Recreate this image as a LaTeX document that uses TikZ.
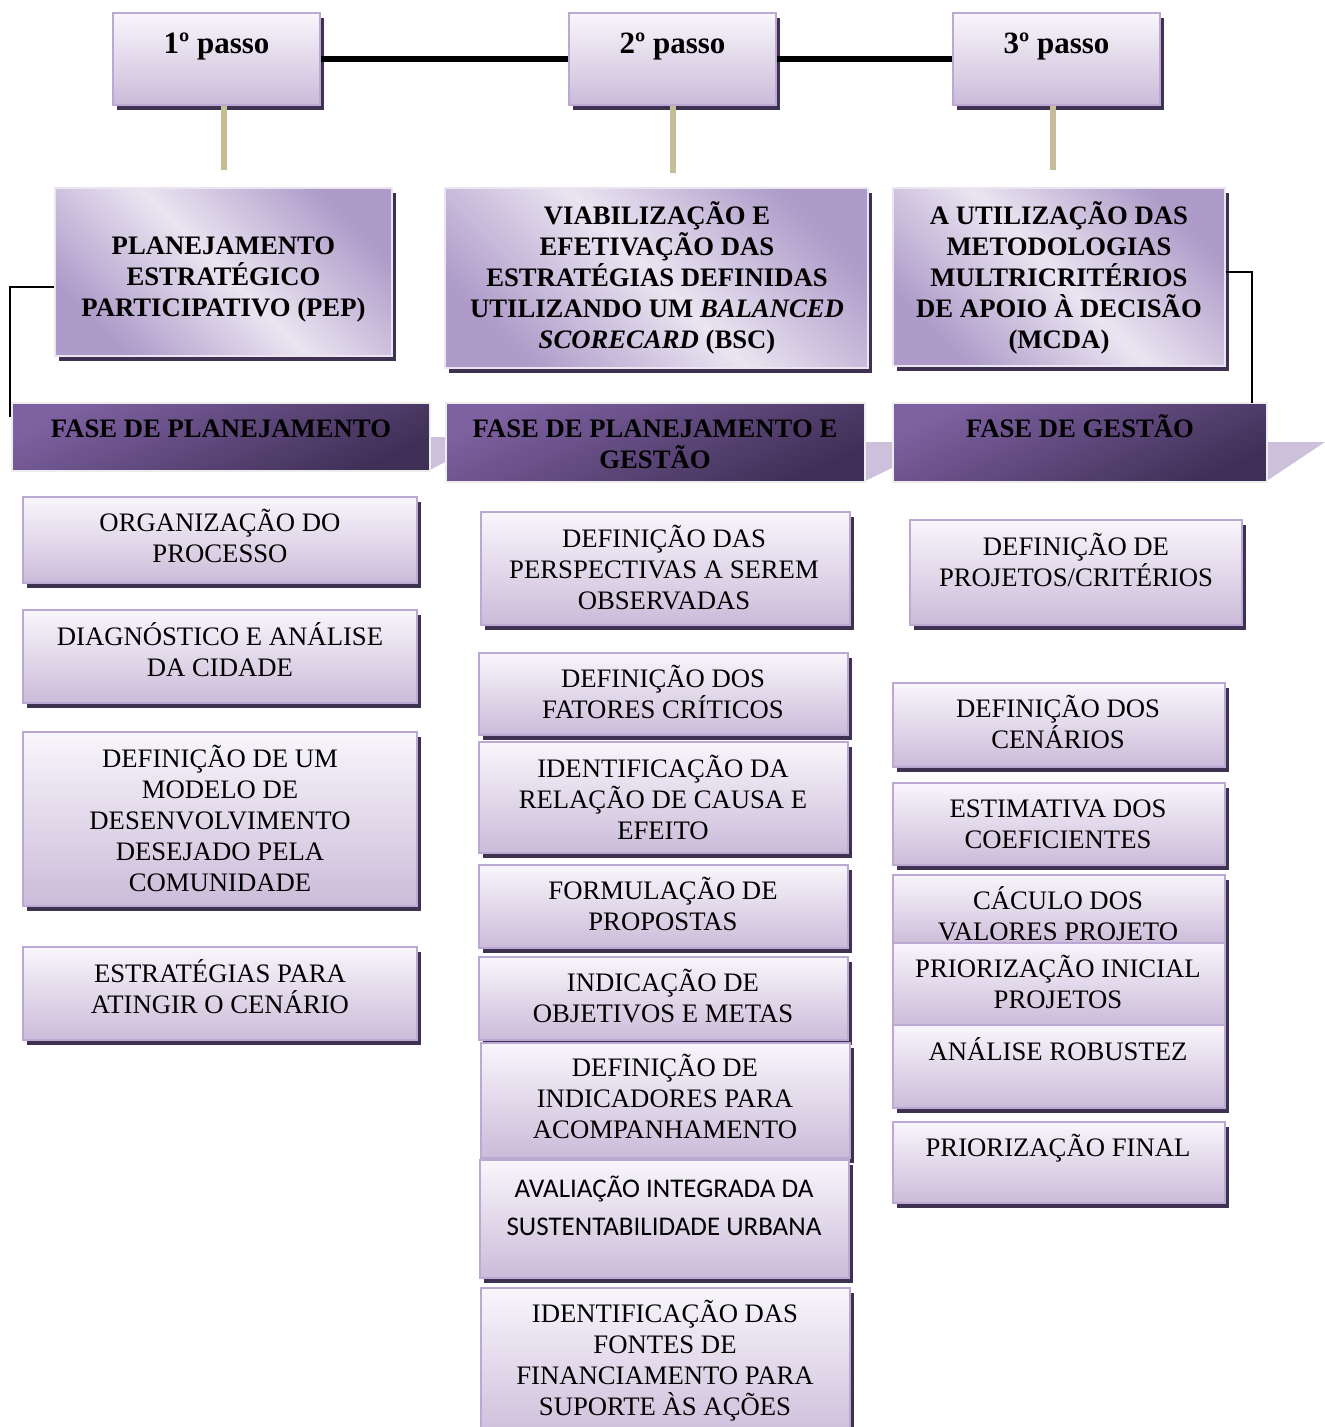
\documentclass[tikz,border=0pt]{standalone}
\usepackage{fontspec}
\setmainfont{Liberation Serif}
\newfontfamily\calibfont{Carlito}
\usetikzlibrary{shadows}
\definecolor{itop}{HTML}{F8F6FB}
\definecolor{ibot}{HTML}{CBBBD9}
\definecolor{ibord}{HTML}{BBA9D3}
\definecolor{shadc}{HTML}{3E3152}
\definecolor{hdark}{HTML}{AE9BC9}
\definecolor{hlight}{HTML}{EAE5F1}
\definecolor{ptop}{HTML}{7E61A1}
\definecolor{pbot}{HTML}{3F2F56}
\definecolor{pbord}{HTML}{EDEDED}
\definecolor{lav}{HTML}{CCC0DB}
\definecolor{tanc}{HTML}{C4BD97}
\newcommand\fr{\rule{0pt}{25pt}}
\newcommand\mkbox[6]{\node[#1, minimum width={(#5-#3)*1pt}, minimum height={(#6-#4)*1pt}] (#2) at ({(#3+#5)/2},{(#4+#6)/2}) {};}
\newcommand\mktext[5]{\node[#1] (#2) at ({#3},{#4-16.4}) {\fr #5};}
\tikzset{
  sh/.style={drop shadow={shadow xshift=4pt, shadow yshift=-5pt, opacity=1, fill=shadc}},
  ibox/.style={draw=ibord, line width=1.8pt, top color=itop, bottom color=ibot, inner sep=0pt, sh},
  pbox/.style={draw=ibord, line width=1.8pt, top color=itop, bottom color=ibot, inner sep=0pt, sh},
  hbox/.style={draw=hlight, line width=1.2pt, top color=hdark, bottom color=hdark, middle color=hlight, shading angle=-45, inner sep=0pt, sh},
  phbox/.style={draw=pbord, line width=2.5pt, top color=ptop, bottom color=pbot, shading angle=25, inner sep=0pt},
  txt/.style={align=center, inner sep=0pt, anchor=north, font=\fontsize{26.7}{31}\selectfont},
  btxt/.style={txt, font=\fontsize{26.7}{31}\selectfont\bfseries},
  ctxt/.style={txt, font=\calibfont\fontsize{27}{38}\selectfont},
  ptxt/.style={inner sep=0pt, anchor=base, font=\fontsize{31}{36}\selectfont\bfseries},
  thick line/.style={line width=6pt, black},
  tanline/.style={line width=6pt, tanc},
  brk/.style={line width=1.6pt, black}
}
\begin{document}
\begin{tikzpicture}[x=1pt, y=-1pt]
\useasboundingbox (0,0) rectangle (1325,1427);
% step boxes
\mkbox{pbox}{p1}{113}{13}{320}{105}
\node[ptxt] (p1t) at (216.5,53) {1º passo};
\mkbox{pbox}{p2}{569}{13}{776}{105}
\node[ptxt] (p2t) at (672.5,53) {2º passo};
\mkbox{pbox}{p3}{953}{13}{1160}{105}
\node[ptxt] (p3t) at (1056.5,53) {3º passo};
\draw[thick line] (p1) -- (p2);
\draw[thick line] (p2) -- (p3);
% header boxes
\mkbox{hbox}{pep}{55}{188}{392}{356}
\mktext{btxt}{pept}{223.5}{246}{PLANEJAMENTO\\ESTRATÉGICO\\PARTICIPATIVO (PEP)}
\mkbox{hbox}{bsc}{445}{188}{868}{368}
\mktext{btxt}{bsct}{657}{216}{VIABILIZAÇÃO E\\EFETIVAÇÃO DAS\\ESTRATÉGIAS DEFINIDAS\\UTILIZANDO UM \textit{BALANCED}\\\textit{SCORECARD} (BSC)}
\mkbox{hbox}{mcda}{893}{188}{1225}{366}
\mktext{btxt}{mcdat}{1059}{216}{A UTILIZAÇÃO DAS\\METODOLOGIAS\\MULTRICRITÉRIOS\\DE APOIO À DECISÃO\\(MCDA)}
% tan connectors
\coordinate (t1) at (224,170);
\coordinate (t2) at (672.5,173);
\coordinate (t3) at (1053,170);
\draw[tanline] (t1 |- p1.south) -- (t1);
\draw[tanline] (t2 |- p2.south) -- (t2);
\draw[tanline] (t3 |- p3.south) -- (t3);
% lavender connectors between phases
\fill[lav] (428,437) -- (447,437) -- (447,461) -- (428,471) -- cycle;
\fill[lav] (863,442) -- (894,442) -- (894,467) -- (863,482) -- cycle;
\fill[lav] (1265,442) -- (1325,442) -- (1265,482) -- cycle;
% phase boxes
\mkbox{phbox}{ph1}{12}{403}{430}{471}
\mktext{btxt}{ph1t}{221}{429}{FASE DE PLANEJAMENTO}
\mkbox{phbox}{ph2}{446}{403}{865}{482}
\mktext{btxt}{ph2t}{655}{429}{FASE DE PLANEJAMENTO E\\GESTÃO}
\mkbox{phbox}{ph3}{893}{403}{1267}{482}
\mktext{btxt}{ph3t}{1080}{429}{FASE DE GESTÃO}
% brackets
\coordinate (bl) at (10,417);
\coordinate (br) at (1252,403);
\draw[brk] (pep.west |- 0,287) -- (bl |- 0,287) -- (bl);
\draw[brk] (mcda.east |- 0,272) -- (br |- 0,272) -- (br);
% column 1
\mkbox{ibox}{a1}{23}{497}{417}{583}
\mktext{txt}{a1t}{220}{523}{ORGANIZAÇÃO DO\\PROCESSO}
\mkbox{ibox}{a2}{23}{610}{417}{703}
\mktext{txt}{a2t}{220}{637}{DIAGNÓSTICO E ANÁLISE\\DA CIDADE}
\mkbox{ibox}{a3}{23}{732}{417}{906}
\mktext{txt}{a3t}{220}{759}{DEFINIÇÃO DE UM\\MODELO DE\\DESENVOLVIMENTO\\DESEJADO PELA\\COMUNIDADE}
\mkbox{ibox}{a4}{23}{947}{417}{1040}
\mktext{txt}{a4t}{220}{974}{ESTRATÉGIAS PARA\\ATINGIR O CENÁRIO}
% column 2
\mkbox{ibox}{b1}{481}{512}{850}{625}
\mktext{txt}{b1t}{664}{539}{DEFINIÇÃO DAS\\PERSPECTIVAS A SEREM\\OBSERVADAS}
\mkbox{ibox}{b2}{479}{653}{848}{735}
\mktext{txt}{b2t}{663}{679}{DEFINIÇÃO DOS\\FATORES CRÍTICOS}
\mkbox{ibox}{b3}{479}{742}{848}{853}
\mktext{txt}{b3t}{663}{769}{IDENTIFICAÇÃO DA\\RELAÇÃO DE CAUSA E\\EFEITO}
\mkbox{ibox}{b4}{479}{865}{848}{948}
\mktext{txt}{b4t}{663}{891}{FORMULAÇÃO DE\\PROPOSTAS}
\mkbox{ibox}{b5}{479}{957}{848}{1040}
\mktext{txt}{b5t}{663}{983}{INDICAÇÃO DE\\OBJETIVOS E METAS}
\mkbox{ibox}{b6}{481}{1043}{850}{1158}
\mktext{txt}{b6t}{665}{1068}{DEFINIÇÃO DE\\INDICADORES PARA\\ACOMPANHAMENTO}
\mkbox{ibox}{b7}{480}{1160}{849}{1278}
\mktext{ctxt}{b7t}{664}{1189}{AVALIAÇÃO INTEGRADA DA\\SUSTENTABILIDADE URBANA}
\mkbox{ibox}{b8}{481}{1288}{850}{1445}
\mktext{txt}{b8t}{665}{1314}{IDENTIFICAÇÃO DAS\\FONTES DE\\FINANCIAMENTO PARA\\SUPORTE ÀS AÇÕES}
% column 3
\mkbox{ibox}{c1}{910}{520}{1242}{625}
\mktext{txt}{c1t}{1076}{547}{DEFINIÇÃO DE\\PROJETOS/CRITÉRIOS}
\mkbox{ibox}{c2}{893}{683}{1225}{767}
\mktext{txt}{c2t}{1058}{709}{DEFINIÇÃO DOS\\CENÁRIOS}
\mkbox{ibox}{c3}{893}{783}{1225}{865}
\mktext{txt}{c3t}{1058}{809}{ESTIMATIVA DOS\\COEFICIENTES}
\mkbox{ibox}{c4}{893}{875}{1225}{945}
\mktext{txt}{c4t}{1058}{901}{CÁCULO DOS\\VALORES PROJETO}
\mkbox{ibox}{c5}{893}{943}{1225}{1025}
\mktext{txt}{c5t}{1058}{969}{PRIORIZAÇÃO INICIAL\\PROJETOS}
\mkbox{ibox}{c6}{893}{1025}{1225}{1108}
\mktext{txt}{c6t}{1058}{1052}{ANÁLISE ROBUSTEZ}
\mkbox{ibox}{c7}{893}{1122}{1225}{1203}
\mktext{txt}{c7t}{1058}{1148}{PRIORIZAÇÃO FINAL}
\end{tikzpicture}
\end{document}
